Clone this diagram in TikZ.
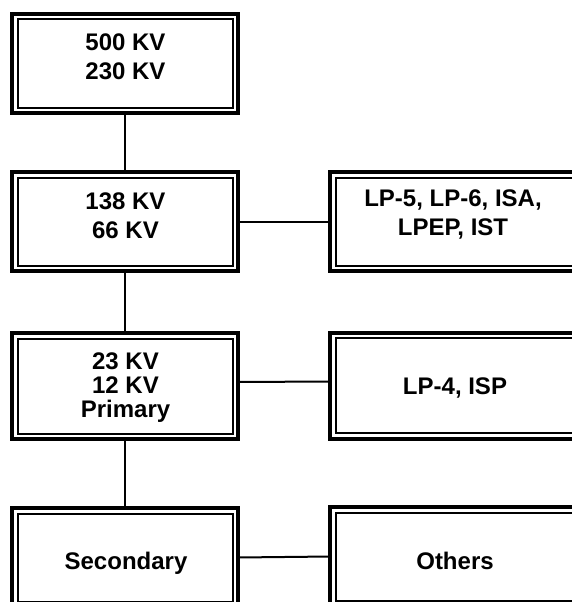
\documentclass[tikz,border=0pt]{standalone}
\usepackage{fontspec}
\setmainfont{Liberation Sans}
\begin{document}
\begin{tikzpicture}[x=1pt, y=-1pt,
    every node/.style={font=\fontsize{24}{29}\selectfont\bfseries, align=center},
    volt/.style={draw, line width=4pt, minimum width=226pt, minimum height=99pt, inner sep=0pt, outer sep=0pt},
    user/.style={volt, minimum width=248pt},
    link/.style={line width=2pt}]
  \useasboundingbox (0,0) rectangle (572,602);
  \clip (0,0) rectangle (572,602);
  % voltage levels
  \node[volt] (v-1) at (125,63.5) {};
  \node[volt] (v-2) at (125,221.5) {};
  \node[volt, minimum height=106pt] (v-3) at (125,386) {};
  \node[volt] (v-4) at (125,557.5) {};
  % customer classes
  \node[user] (u-2) at (454,221.5) {};
  \node[user, minimum height=106pt] (u-3) at (454,385.5) {};
  \node[user] (u-4) at (454,556.5) {};
  % inner frame of each box
  \foreach \frm in {v-1, v-2, v-3, v-4, u-2, u-3, u-4}
    \draw[line width=2pt] ([shift={(5.5,5.5)}]\frm.north west) rectangle ([shift={(-5.5,-5.5)}]\frm.south east);
  % texts
  \node (t-v-1) at (125.5,56.6) {500 KV\\230 KV};
  \node (t-v-2) at (125.5,216) {138 KV\\66 KV};
  \node[font=\fontsize{24}{24}\selectfont\bfseries] (t-v-3) at (125.5,388) {23 KV\\12 KV\\Primary};
  \node (t-v-4) at (126,563.5) {Secondary};
  \node (t-u-2) at (453,214.4) {LP-5, LP-6, ISA,\\LPEP, IST};
  \node (t-u-3) at (455,388) {LP-4, ISP};
  \node (t-u-4) at (455,561) {Others};
  % connectors
  \foreach \upper/\lower in {1/2, 2/3, 3/4}
    \draw[link] (v-\upper.south) -- (v-\lower.north);
  \draw[link] (v-2.east) -- (u-2.west);
  \draw[link] ([yshift=4pt]v-3.east) -- ([yshift=4pt]u-3.west);
  \draw[link] (v-4.east) -- (u-4.west);
\end{tikzpicture}
\end{document}
